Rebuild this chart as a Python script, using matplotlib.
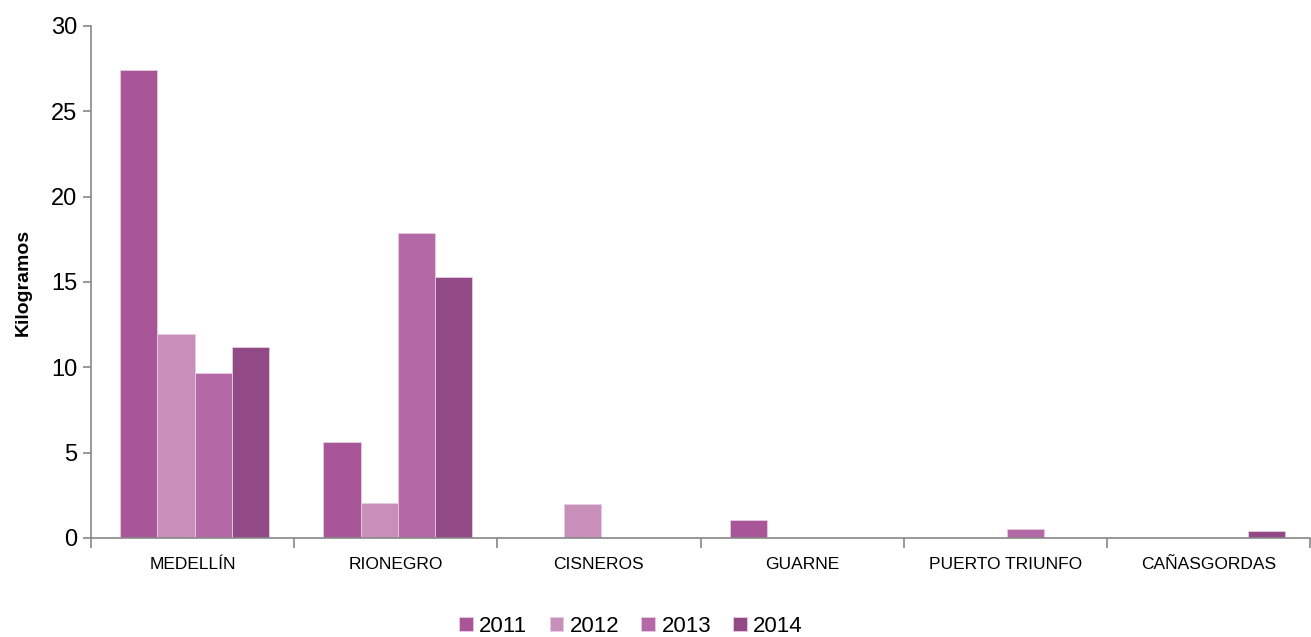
import numpy as np
import matplotlib.pyplot as plt
from matplotlib import font_manager

names = [f.name for f in font_manager.fontManager.ttflist]
narrow = 'Liberation Sans Narrow' if 'Liberation Sans Narrow' in names else 'Liberation Sans'
plt.rcParams['font.family'] = [narrow, 'DejaVu Sans']

municipios = ['MEDELLÍN', 'RIONEGRO', 'CISNEROS', 'GUARNE', 'PUERTO TRIUNFO', 'CAÑASGORDAS']
years = ['2011', '2012', '2013', '2014']
v2011 = [27.45, 5.65, 0, 1.05, 0, 0]
v2012 = [11.95, 2.05, 2.0, 0, 0, 0]
v2013 = [9.65, 17.85, 0, 0, 0.5, 0]
v2014 = [11.2, 15.3, 0, 0, 0, 0.4]
colors = ['#A85698', '#C78FBA', '#B468A5', '#924A87']

fig = plt.figure(figsize=(13.11, 6.37), dpi=100)
ax = fig.add_axes([91/1311, 1-538/637, 1-92/1311, 512/637])

x = np.arange(len(municipios))
w = 0.183
series = [v2011, v2012, v2013, v2014]
for i, (vals, c) in enumerate(zip(series, colors)):
    ax.bar(x + (i - 1.5)*w + 0.01, vals, w, color=c, edgecolor='#E6CCE0', linewidth=0.6, label=years[i])

ax.set_xlim(-0.5, len(municipios) - 0.5)
ax.set_ylim(0, 30)
ax.set_yticks(range(0, 31, 5))
ax.tick_params(axis='y', labelsize=17, length=6, color='#888888', width=1.2, pad=4)
ax.set_xticks(x)
ax.set_xticklabels(municipios, fontsize=12.5)
ax.tick_params(axis='x', length=0, pad=14)
ax.set_xticks(np.arange(len(municipios) + 1) - 0.5, minor=True)
ax.tick_params(axis='x', which='minor', length=7, color='#888888', width=1.2)
for s in ['top', 'right']:
    ax.spines[s].set_visible(False)
for s in ['left', 'bottom']:
    ax.spines[s].set_color('#888888')
    ax.spines[s].set_linewidth(1.2)
ax.set_ylabel('Kilogramos', fontsize=14, fontweight='bold', labelpad=14)

ax.legend(loc='center', bbox_to_anchor=(0.443, -0.172), ncol=4, frameon=False,
          fontsize=16, handlelength=0.6, handleheight=0.6, handletextpad=0.3, columnspacing=1.0)

fig.savefig('out.png', dpi=100)
